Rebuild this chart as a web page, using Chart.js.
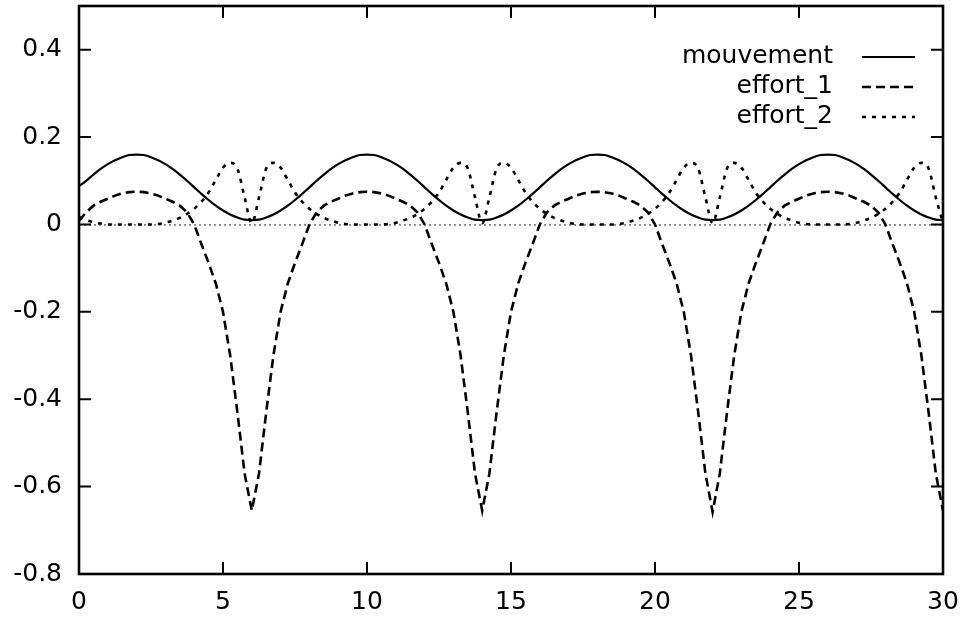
<!DOCTYPE html>
<html><head><meta charset="utf-8">
<script src="https://cdn.jsdelivr.net/npm/chart.js@4.4.1/dist/chart.umd.min.js"></script>
<style>html,body{margin:0;padding:0;background:#fff;} #wrap{width:963px;height:622px;}</style>
</head><body><div id="wrap"><canvas id="c" width="963" height="622"></canvas></div>
<script>
const xTicks = [0, 5, 10, 15, 20, 25, 30];
const yTicks = [-0.8, -0.6, -0.4, -0.2, 0, 0.2, 0.4];
const seriesNames = ['mouvement', 'effort_1', 'effort_2'];

const xs = [0,0.25,0.5,0.75,1,1.25,1.5,1.75,2,2.25,2.5,2.75,3,3.25,3.5,3.75,4,4.25,4.5,4.75,5,5.25,5.5,5.75,6,6.25,6.5,6.75,7,7.25,7.5,7.75,8,8.25,8.5,8.75,9,9.25,9.5,9.75,10,10.25,10.5,10.75,11,11.25,11.5,11.75,12,12.25,12.5,12.75,13,13.25,13.5,13.75,14,14.25,14.5,14.75,15,15.25,15.5,15.75,16,16.25,16.5,16.75,17,17.25,17.5,17.75,18,18.25,18.5,18.75,19,19.25,19.5,19.75,20,20.25,20.5,20.75,21,21.25,21.5,21.75,22,22.25,22.5,22.75,23,23.25,23.5,23.75,24,24.25,24.5,24.75,25,25.25,25.5,25.75,26,26.25,26.5,26.75,27,27.25,27.5,27.75,28,28.25,28.5,28.75,29,29.25,29.5,29.75,30];

const mouvement = [
0.088,0.100,0.114,0.127,0.138,0.147,0.154,0.159,0.160,
0.159,0.154,0.147,0.138,0.127,0.114,0.100,0.085,0.070,0.056,0.043,0.032,0.023,0.016,0.011,0.010,
0.011,0.016,0.023,0.032,0.043,0.056,0.070,0.085,0.100,0.114,0.127,0.138,0.147,0.154,0.159,0.160,
0.159,0.154,0.147,0.138,0.127,0.114,0.100,0.085,0.070,0.056,0.043,0.032,0.023,0.016,0.011,0.010,
0.011,0.016,0.023,0.032,0.043,0.056,0.070,0.085,0.100,0.114,0.127,0.138,0.147,0.154,0.159,0.160,
0.159,0.154,0.147,0.138,0.127,0.114,0.100,0.085,0.070,0.056,0.043,0.032,0.023,0.016,0.011,0.010,
0.011,0.016,0.023,0.032,0.043,0.056,0.070,0.085,0.100,0.114,0.127,0.138,0.147,0.154,0.159,0.160,
0.159,0.154,0.147,0.138,0.127,0.114,0.100,0.085,0.070,0.056,0.043,0.032,0.023,0.016,0.011,0.010];

const effort1 = [
0.008,0.028,0.043,0.052,0.059,0.066,0.071,0.074,0.075,
0.074,0.071,0.066,0.059,0.052,0.043,0.028,0.000,-0.045,-0.088,-0.135,-0.200,-0.300,-0.430,-0.570,-0.655,
-0.570,-0.430,-0.300,-0.200,-0.135,-0.088,-0.045,0.000,0.028,0.043,0.052,0.059,0.066,0.071,0.074,0.075,
0.074,0.071,0.066,0.059,0.052,0.043,0.028,0.000,-0.045,-0.088,-0.135,-0.200,-0.300,-0.430,-0.570,-0.655,
-0.570,-0.430,-0.300,-0.200,-0.135,-0.088,-0.045,0.000,0.028,0.043,0.052,0.059,0.066,0.071,0.074,0.075,
0.074,0.071,0.066,0.059,0.052,0.043,0.028,0.000,-0.045,-0.088,-0.135,-0.200,-0.300,-0.430,-0.570,-0.658,
-0.570,-0.430,-0.300,-0.200,-0.135,-0.088,-0.045,0.000,0.028,0.043,0.052,0.059,0.066,0.071,0.074,0.075,
0.074,0.071,0.066,0.059,0.052,0.043,0.028,0.000,-0.045,-0.088,-0.135,-0.200,-0.300,-0.430,-0.570,-0.655];

const effort2 = [
0.017,0.010,0.005,0.002,0.000,0.000,0.000,0.000,0.000,
0.000,0.000,0.001,0.004,0.009,0.015,0.024,0.036,0.052,0.073,0.102,0.130,0.141,0.128,0.062,0.003,
0.062,0.128,0.141,0.130,0.102,0.073,0.052,0.036,0.024,0.015,0.009,0.004,0.001,0.000,0.000,0.000,
0.000,0.000,0.001,0.004,0.009,0.015,0.024,0.036,0.052,0.073,0.102,0.130,0.141,0.128,0.062,0.003,
0.062,0.128,0.141,0.130,0.102,0.073,0.052,0.036,0.024,0.015,0.009,0.004,0.001,0.000,0.000,0.000,
0.000,0.000,0.001,0.004,0.009,0.015,0.024,0.036,0.052,0.073,0.102,0.130,0.141,0.128,0.062,0.003,
0.062,0.128,0.141,0.130,0.102,0.073,0.052,0.036,0.024,0.015,0.009,0.004,0.001,0.000,0.000,0.000,
0.000,0.000,0.001,0.004,0.009,0.015,0.024,0.036,0.052,0.073,0.102,0.130,0.141,0.128,0.062,0.003];

function pts(ys) { return xs.map((x, i) => ({ x: x, y: ys[i] })); }
const FONT = '"DejaVu Sans", sans-serif';

const gnuFrame = {
  id: 'gnuFrame',
  beforeDatasetsDraw(chart) {
    const ctx = chart.ctx, a = chart.chartArea, y0 = chart.scales.y.getPixelForValue(0);
    ctx.save();
    ctx.strokeStyle = '#222';
    ctx.lineWidth = 1;
    ctx.setLineDash([2, 3]);
    ctx.beginPath();
    ctx.moveTo(a.left, y0 + 0.5);
    ctx.lineTo(a.right, y0 + 0.5);
    ctx.stroke();
    ctx.restore();
  },
  afterDatasetsDraw(chart) {
    const ctx = chart.ctx, a = chart.chartArea, sx = chart.scales.x, sy = chart.scales.y;
    ctx.save();
    ctx.strokeStyle = '#000';
    ctx.setLineDash([]);
    ctx.lineWidth = 2;
    const tl = 12;
    ctx.beginPath();
    xTicks.forEach(v => {
      const p = sx.getPixelForValue(v);
      ctx.moveTo(p, a.bottom); ctx.lineTo(p, a.bottom - tl);
      ctx.moveTo(p, a.top); ctx.lineTo(p, a.top + tl);
    });
    yTicks.forEach(v => {
      const p = sy.getPixelForValue(v);
      ctx.moveTo(a.left, p); ctx.lineTo(a.left + tl, p);
      ctx.moveTo(a.right, p); ctx.lineTo(a.right - tl, p);
    });
    ctx.stroke();
    ctx.lineWidth = 2.6;
    ctx.strokeRect(a.left, a.top, a.right - a.left, a.bottom - a.top);
    // legend
    ctx.font = '25px ' + FONT;
    ctx.fillStyle = '#000';
    ctx.textAlign = 'right';
    ctx.textBaseline = 'alphabetic';
    chart.data.datasets.forEach((ds, i) => {
      const yc = a.top + 51 + 30 * i;
      ctx.fillText(ds.label, 833, yc + 6);
      ctx.lineWidth = ds.borderWidth;
      ctx.setLineDash(ds.borderDash || []);
      ctx.beginPath();
      ctx.moveTo(862, yc);
      ctx.lineTo(915, yc);
      ctx.stroke();
    });
    ctx.restore();
  }
};

new Chart(document.getElementById('c').getContext('2d'), {
  type: 'line',
  data: {
    datasets: [
      { label: seriesNames[0], data: pts(mouvement), borderColor: '#000', borderWidth: 2.2, borderDash: [], pointRadius: 0, cubicInterpolationMode: 'monotone', fill: false },
      { label: seriesNames[1], data: pts(effort1), borderColor: '#000', borderWidth: 2.6, borderDash: [9, 5], pointRadius: 0, tension: 0, fill: false },
      { label: seriesNames[2], data: pts(effort2), borderColor: '#000', borderWidth: 2.6, borderDash: [4, 6], pointRadius: 0, cubicInterpolationMode: 'monotone', fill: false }
    ]
  },
  options: {
    responsive: false,
    animation: false,
    devicePixelRatio: 1,
    layout: { padding: { left: 0, top: 6, right: 20, bottom: 0 } },
    plugins: { legend: { display: false }, tooltip: { enabled: false } },
    scales: {
      x: {
        type: 'linear', min: 0, max: 30,
        afterBuildTicks: s => { s.ticks = xTicks.map(v => ({ value: v })); },
        afterFit: s => { s.height = 48; s.paddingLeft = 0; s.paddingRight = 0; },
        grid: { display: false, drawTicks: false },
        border: { display: false },
        ticks: { padding: 13, color: '#000', font: { family: FONT, size: 25 }, maxRotation: 0, autoSkip: false, callback: v => String(v) }
      },
      y: {
        type: 'linear', min: -0.8, max: 0.5,
        afterBuildTicks: s => { s.ticks = yTicks.map(v => ({ value: v })); },
        afterFit: s => { s.width = 79; s.paddingTop = 0; s.paddingBottom = 0; },
        grid: { display: false, drawTicks: false },
        border: { display: false },
        ticks: { padding: 17, color: '#000', font: { family: FONT, size: 25 }, autoSkip: false, callback: v => (v === 0 ? '0' : v.toFixed(1)) }
      }
    }
  },
  plugins: [gnuFrame]
});
</script>
</body></html>
